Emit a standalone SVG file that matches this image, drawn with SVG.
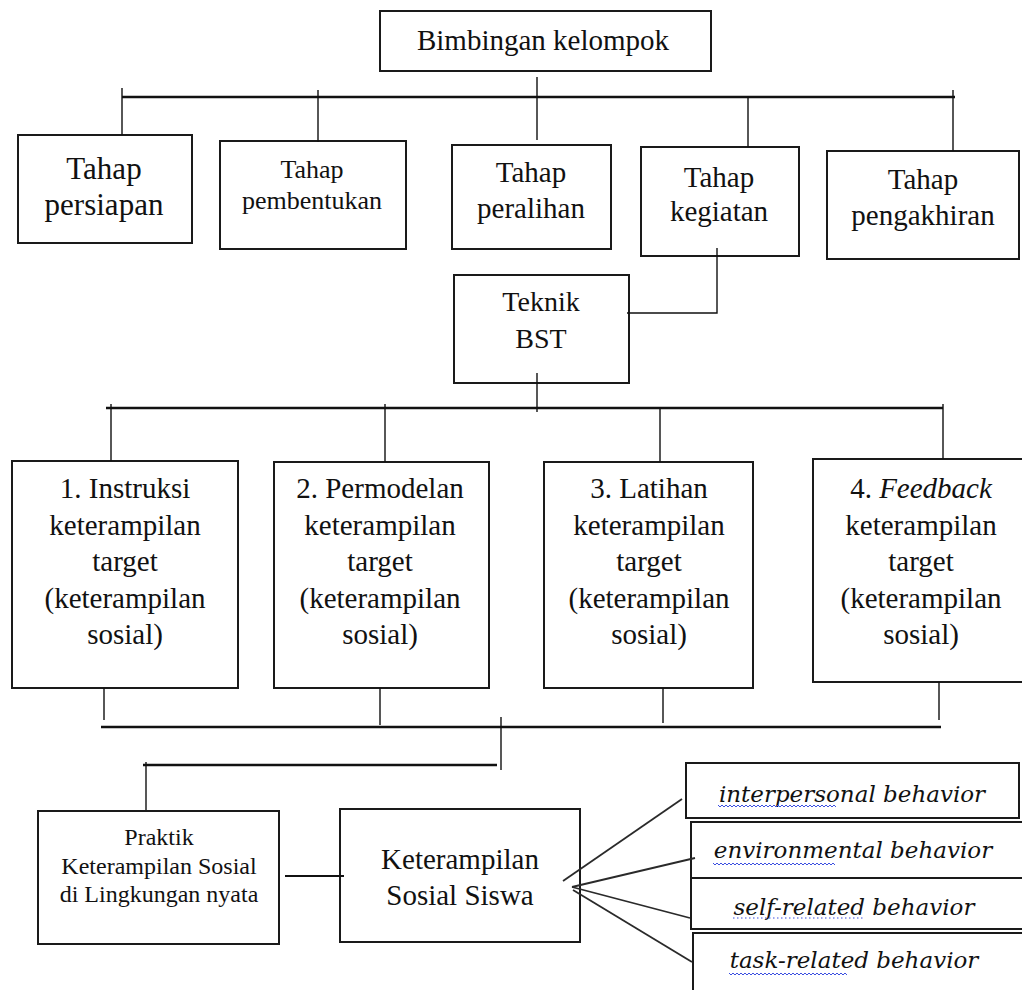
<svg xmlns="http://www.w3.org/2000/svg" width="1022" height="990" viewBox="0 0 1022 990">
<style>
.box{fill:#fff;stroke:#1a1a1a;stroke-width:2}
.t{font-family:"Liberation Serif","Times New Roman",serif;fill:#111;text-anchor:middle}
.b{font-family:"DejaVu Serif",serif;font-style:italic;fill:#111;text-anchor:middle;font-size:23px}
.c{fill:none;stroke:#111;stroke-width:1.4}
.f{fill:none;stroke:#2a2a2a;stroke-width:1.8}
.bus{fill:none;stroke:#111;stroke-width:2.4}
.sq{fill:none;stroke:#3b4fe0;stroke-width:1}
</style>
<rect width="1022" height="990" fill="#fff"/>
<g id="n-bimbingan"><rect class="box" x="380" y="11" width="331" height="60"/><text class="t" x="543" y="50" font-size="29">Bimbingan kelompok</text></g>
<g id="n-persiapan"><rect class="box" x="18" y="135" width="174" height="108"/><text class="t" x="104" y="179" font-size="31">Tahap</text><text class="t" x="104" y="215" font-size="31">persiapan</text></g>
<g id="n-pembentukan"><rect class="box" x="220" y="141" width="186" height="108"/><text class="t" x="312" y="178" font-size="26">Tahap</text><text class="t" x="312" y="209" font-size="26">pembentukan</text></g>
<g id="n-peralihan"><rect class="box" x="452" y="145" width="159" height="104"/><text class="t" x="531" y="182" font-size="29">Tahap</text><text class="t" x="531" y="218" font-size="29">peralihan</text></g>
<g id="n-kegiatan"><rect class="box" x="641" y="147" width="158" height="109"/><text class="t" x="719" y="187" font-size="29">Tahap</text><text class="t" x="719" y="221" font-size="29">kegiatan</text></g>
<g id="n-pengakhiran"><rect class="box" x="827" y="151" width="192" height="108"/><text class="t" x="923" y="189" font-size="29">Tahap</text><text class="t" x="923" y="225" font-size="29">pengakhiran</text></g>
<g id="n-bst"><rect class="box" x="454" y="275" width="175" height="108"/><text class="t" x="541" y="311" font-size="28">Teknik</text><text class="t" x="541" y="348" font-size="28">BST</text></g>
<g id="n-instruksi"><rect class="box" x="12" y="461" width="226" height="227"/>
<text class="t" font-size="29"><tspan x="125" y="498">1. Instruksi</tspan><tspan x="125" y="534.5">keterampilan</tspan><tspan x="125" y="571">target</tspan><tspan x="125" y="607.5">(keterampilan</tspan><tspan x="125" y="644">sosial)</tspan></text></g>
<g id="n-permodelan"><rect class="box" x="274" y="462" width="215" height="226"/>
<text class="t" font-size="29"><tspan x="380" y="498">2. Permodelan</tspan><tspan x="380" y="534.5">keterampilan</tspan><tspan x="380" y="571">target</tspan><tspan x="380" y="607.5">(keterampilan</tspan><tspan x="380" y="644">sosial)</tspan></text></g>
<g id="n-latihan"><rect class="box" x="544" y="462" width="209" height="226"/>
<text class="t" font-size="29"><tspan x="649" y="498">3. Latihan</tspan><tspan x="649" y="534.5">keterampilan</tspan><tspan x="649" y="571">target</tspan><tspan x="649" y="607.5">(keterampilan</tspan><tspan x="649" y="644">sosial)</tspan></text></g>
<g id="n-feedback"><rect class="box" x="813" y="459" width="216" height="223"/>
<text class="t" font-size="29"><tspan x="921" y="498">4. <tspan font-style="italic">Feedback</tspan></tspan><tspan x="921" y="534.5">keterampilan</tspan><tspan x="921" y="571">target</tspan><tspan x="921" y="607.5">(keterampilan</tspan><tspan x="921" y="644">sosial)</tspan></text></g>
<g id="n-praktik"><rect class="box" x="38" y="811" width="241" height="133"/>
<text class="t" font-size="24"><tspan x="159" y="845">Praktik</tspan><tspan x="159" y="874">Keterampilan Sosial</tspan><tspan x="159" y="902">di Lingkungan nyata</tspan></text></g>
<g id="n-siswa"><rect class="box" x="340" y="809" width="240" height="133"/>
<text class="t" font-size="29"><tspan x="460" y="869">Keterampilan</tspan><tspan x="460" y="905">Sosial Siswa</tspan></text></g>
<g id="n-interpersonal"><rect class="box" x="686" y="763" width="333" height="55"/><text class="b" x="852" y="802">interpersonal behavior</text>
<path class="sq" d="M718 805l2 2 2-2 2 2 2-2 2 2 2-2 2 2 2-2 2 2 2-2 2 2 2-2 2 2 2-2 2 2 2-2 2 2 2-2 2 2 2-2 2 2 2-2 2 2 2-2 2 2 2-2 2 2 2-2 2 2 2-2 2 2 2-2 2 2 2-2 2 2 2-2 2 2 2-2 2 2 2-2 2 2 2-2 2 2 2-2 2 2 2-2 2 2 2-2 2 2 2-2 2 2 2-2 2 2 2-2 2 2 2-2 2 2 2-2 2 2"/></g>
<g id="n-environmental"><rect class="box" x="691" y="822" width="332" height="56"/><text class="b" x="853" y="858">environmental behavior</text>
<path class="sq" d="M713 863l2 2 2-2 2 2 2-2 2 2 2-2 2 2 2-2 2 2 2-2 2 2 2-2 2 2 2-2 2 2 2-2 2 2 2-2 2 2 2-2 2 2 2-2 2 2 2-2 2 2 2-2 2 2 2-2 2 2 2-2 2 2 2-2 2 2 2-2 2 2 2-2 2 2 2-2 2 2 2-2 2 2 2-2 2 2 2-2 2 2 2-2 2 2 2-2 2 2 2-2 2 2 2-2 2 2 2-2 2 2 2-2 2 2 2-2 2 2 2-2 2 2"/></g>
<g id="n-selfrelated"><rect class="box" x="691" y="878" width="332" height="51"/><text class="b" x="854" y="915">self-related behavior</text>
<path class="sq" d="M733 918H865" stroke-dasharray="1.5 2.5"/></g>
<g id="n-taskrelated"><rect class="box" x="693" y="933" width="334" height="70"/><text class="b" x="854" y="968">task-related behavior</text>
<path class="sq" d="M729 973l2 2 2-2 2 2 2-2 2 2 2-2 2 2 2-2 2 2 2-2 2 2 2-2 2 2 2-2 2 2 2-2 2 2 2-2 2 2 2-2 2 2 2-2 2 2 2-2 2 2 2-2 2 2 2-2 2 2 2-2 2 2 2-2 2 2 2-2 2 2 2-2 2 2 2-2 2 2 2-2 2 2 2-2 2 2 2-2 2 2 2-2 2 2 2-2 2 2 2-2 2 2 2-2 2 2 2-2 2 2 2-2 2 2 2-2 2 2"/></g>
<g id="connectors">
<path class="bus" d="M122 97H955"/>
<path class="c" d="M537 77V140M122 88V135M318 90V142M748 97V147M953 90V151"/>
<path class="c" d="M717 248V313H627"/>
<path class="c" d="M537 373V412"/>
<path class="bus" d="M106 408H943"/>
<path class="c" d="M111 404V461M385 404V462M660 408V462M943 404V459"/>
<path class="c" d="M104 688V720M380 688V725M663 688V723M939 682V720"/>
<path class="bus" d="M101 727H941"/>
<path class="c" d="M501 717V770"/>
<path class="bus" d="M143 765H497"/>
<path class="c" d="M146 762V810"/>
<path class="c" d="M285 876H344" style="stroke-width:2"/>
<path class="f" d="M563 881L682 799"/>
<path class="f" d="M572 887L695 858"/>
<path class="f" d="M572 887L690 918"/>
<path class="f" d="M573 890L692 962"/>
</g>
</svg>
